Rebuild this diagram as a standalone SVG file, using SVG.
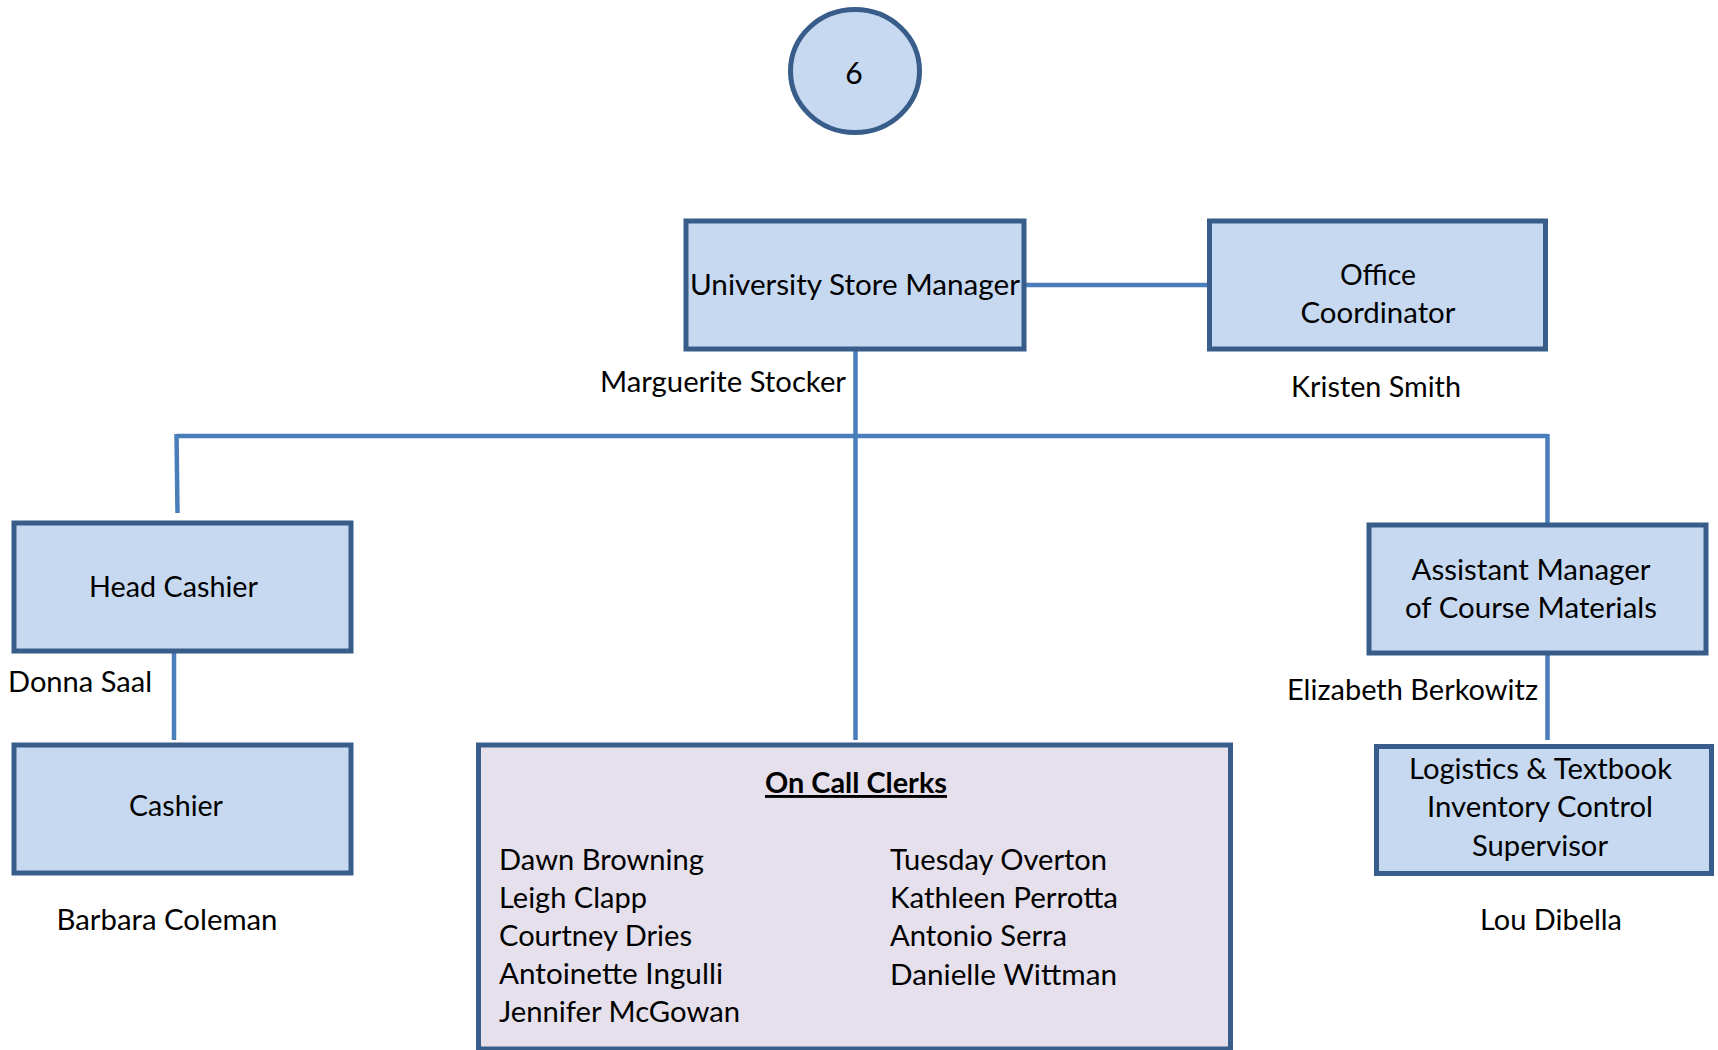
<svg xmlns="http://www.w3.org/2000/svg" width="1718" height="1050" viewBox="0 0 1718 1050">
<style>
.box{fill:#C6D9F1;stroke:#385D8A;stroke-width:5}
.clerks{fill:#E5E0EC;stroke:#385D8A;stroke-width:5}
.conn{fill:none;stroke:#4A7EBB;stroke-width:4.5}
text{font-family:Lato,"Liberation Sans",sans-serif;font-size:29px;fill:#000}
.c{text-anchor:middle}
.e{text-anchor:end}
.b{font-weight:bold;text-decoration:underline}
</style>
<rect width="1718" height="1050" fill="#fff"/>
<g id="connectors">
<path class="conn" d="M1026,285 H1209"/>
<path class="conn" d="M855.5,345 V740"/>
<path class="conn" d="M176.5,436 H1547.5"/>
<path class="conn" d="M176.5,434 L177.5,513"/>
<path class="conn" d="M1547.5,434 V523"/>
<path class="conn" d="M174,652 V740"/>
<path class="conn" d="M1547.5,655 V740"/>
</g>
<g id="page-number">
<ellipse class="box" cx="855" cy="71" rx="64.5" ry="61.5"/>
<text class="c" x="854" y="84" style="font-size:30px">6</text>
</g>
<g id="store-manager">
<rect class="box" x="686" y="221" width="338" height="128"/>
<text class="c" x="855" y="295" textLength="330" lengthAdjust="spacingAndGlyphs">University Store Manager</text>
<text class="e" x="846" y="392" textLength="246" lengthAdjust="spacingAndGlyphs">Marguerite Stocker</text>
</g>
<g id="office-coordinator">
<rect class="box" x="1209.5" y="221" width="336" height="128"/>
<text class="c" x="1378" y="285" textLength="76" lengthAdjust="spacingAndGlyphs">Office</text>
<text class="c" x="1378" y="323" textLength="155" lengthAdjust="spacingAndGlyphs">Coordinator</text>
<text class="c" x="1376" y="397" textLength="170" lengthAdjust="spacingAndGlyphs">Kristen Smith</text>
</g>
<g id="head-cashier">
<rect class="box" x="14" y="523" width="337" height="128"/>
<text class="c" x="173.5" y="597" textLength="169" lengthAdjust="spacingAndGlyphs">Head Cashier</text>
<text x="8" y="692" textLength="144" lengthAdjust="spacingAndGlyphs">Donna Saal</text>
</g>
<g id="cashier">
<rect class="box" x="14" y="745" width="337" height="128"/>
<text class="c" x="176" y="816" textLength="94" lengthAdjust="spacingAndGlyphs">Cashier</text>
<text class="c" x="167" y="930" textLength="221" lengthAdjust="spacingAndGlyphs">Barbara Coleman</text>
</g>
<g id="assistant-manager">
<rect class="box" x="1369" y="525" width="337" height="128"/>
<text class="c" x="1531" y="580" textLength="239" lengthAdjust="spacingAndGlyphs">Assistant Manager</text>
<text class="c" x="1531" y="618" textLength="252" lengthAdjust="spacingAndGlyphs">of Course Materials</text>
<text class="e" x="1538" y="700" textLength="251" lengthAdjust="spacingAndGlyphs">Elizabeth Berkowitz</text>
</g>
<g id="logistics-supervisor">
<rect class="box" x="1376.5" y="746.5" width="335" height="127"/>
<text class="c" x="1540.5" y="779" textLength="263" lengthAdjust="spacingAndGlyphs">Logistics &amp; Textbook</text>
<text class="c" x="1540" y="817" textLength="226" lengthAdjust="spacingAndGlyphs">Inventory Control</text>
<text class="c" x="1540" y="856" textLength="136" lengthAdjust="spacingAndGlyphs">Supervisor</text>
<text class="c" x="1551" y="930" textLength="142" lengthAdjust="spacingAndGlyphs">Lou Dibella</text>
</g>
<g id="on-call-clerks">
<rect class="clerks" x="478.5" y="745" width="752" height="304"/>
<text class="c b" x="856" y="793" textLength="182" lengthAdjust="spacingAndGlyphs">On Call Clerks</text>
<text x="499" y="869.5" textLength="205" lengthAdjust="spacingAndGlyphs">Dawn Browning</text>
<text x="499" y="907.5" textLength="148" lengthAdjust="spacingAndGlyphs">Leigh Clapp</text>
<text x="499" y="945.5" textLength="193" lengthAdjust="spacingAndGlyphs">Courtney Dries</text>
<text x="499" y="984" textLength="224" lengthAdjust="spacingAndGlyphs">Antoinette Ingulli</text>
<text x="499" y="1022" textLength="241" lengthAdjust="spacingAndGlyphs">Jennifer McGowan</text>
<text x="890" y="869.5" textLength="217" lengthAdjust="spacingAndGlyphs">Tuesday Overton</text>
<text x="890" y="907.5" textLength="228" lengthAdjust="spacingAndGlyphs">Kathleen Perrotta</text>
<text x="890" y="946" textLength="177" lengthAdjust="spacingAndGlyphs">Antonio Serra</text>
<text x="890" y="984.5" textLength="227" lengthAdjust="spacingAndGlyphs">Danielle Wittman</text>
</g>
</svg>
